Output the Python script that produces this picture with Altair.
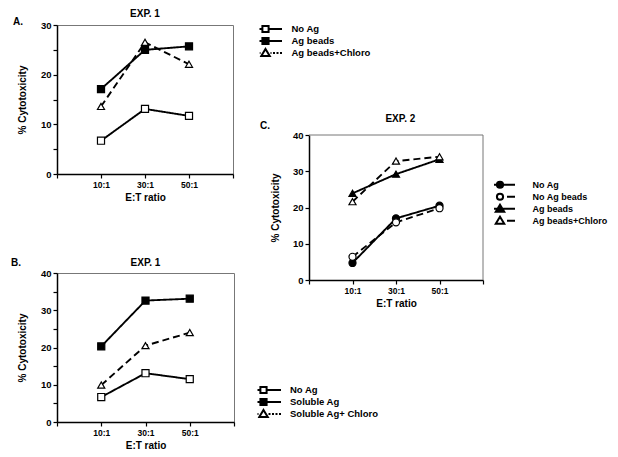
import altair as alt
import pandas as pd

FONT = "Liberation Sans"

# ---------------- data ----------------
ratios = [10, 30, 50]
ratio_labels = ["10:1", "30:1", "50:1"]
x_ticks = [-10, 0, 10, 20, 30, 40, 50, 60, 70]

a_series = ["No Ag", "Ag beads", "Ag beads+Chloro"]
a_no_ag = [6.7, 13.1, 11.7]
a_ag_beads = [17.1, 25.0, 25.7]
a_ag_beads_chloro = [13.6, 26.5, 22.1]

b_series = ["No Ag", "Soluble Ag", "Soluble Ag+ Chloro"]
b_no_ag = [6.7, 13.1, 11.5]
b_soluble_ag = [20.3, 32.6, 33.1]
b_soluble_ag_chloro = [9.9, 20.5, 24.0]

c_series = ["No Ag", "No Ag beads", "Ag beads", "Ag beads+Chloro"]
c_no_ag = [4.7, 17.0, 20.5]
c_no_ag_beads = [6.4, 15.9, 19.8]
c_ag_beads = [23.9, 29.2, 33.3]
c_ag_beads_chloro = [21.6, 32.8, 34.0]


def long_df(series, values):
    rows = []
    for s, vals in zip(series, values):
        for r, v in zip(ratios, vals):
            rows.append({"series": s, "ratio": r, "value": v})
    return pd.DataFrame(rows)


df_a = long_df(a_series, [a_no_ag, a_ag_beads, a_ag_beads_chloro])
df_b = long_df(b_series, [b_no_ag, b_soluble_ag, b_soluble_ag_chloro])
df_c = long_df(c_series, [c_no_ag, c_no_ag_beads, c_ag_beads, c_ag_beads_chloro])

# ---------------- legend symbol paths (line + marker), unit = 5 px ----------------
def segs(x0, x1, dash=None, gap=None):
    if dash is None:
        return [(x0, x1)]
    out = []
    x = x0
    while x < x1 - 1e-6:
        e = min(x + dash, x1)
        out.append((x, e))
        x = e + gap
    return out


def line_path(half, inner, style):
    if style == "solid":
        left = segs(-half, -inner)
    elif style == "dotted":
        left = segs(-half, -inner, 0.4, 0.3)
    else:  # dashed
        left = segs(-half, -inner, 1.6, 0.5)
    p = ""
    for a, b in left:
        p += f"M{a:.3f},0H{b:.3f}"
        p += f"M{-b:.3f},0H{-a:.3f}"
    return p


def marker_path(kind, m=0.62):
    if kind == "square":
        return f"M{-m},{-m}H{m}V{m}H{-m}Z"
    if kind == "circle":
        return f"M{m},0A{m},{m},0,1,1,{-m},0A{m},{m},0,1,1,{m},0Z"
    return "M0,-0.8L0.85,0.62L-0.85,0.62Z"


def sym(kind, style, half, inner):
    return line_path(half, inner, style) + marker_path(kind)


SOLID = [1, 0]
DASH = [7, 4]

x_label_expr = " : ".join(
    f"datum.value == {r} ? '{l}'" for r, l in zip(ratios, ratio_labels)
) + " : ''"


def encodings(df, ymax, title_pad, y_range=None):
    x_axis = alt.Axis(values=x_ticks, labelExpr=x_label_expr, title="E:T ratio",
                      labelFontSize=8.5, labelPadding=2, titlePadding=4)
    y_axis = alt.Axis(values=list(range(0, ymax + 1, 5)),
                      labelExpr="datum.value % 10 == 0 ? datum.value : ''",
                      title="% Cytotoxicity", labelFontSize=9.5, labelPadding=2,
                      titlePadding=title_pad)
    if y_range is None:
        y_scale = alt.Scale(domain=[0, ymax], nice=False)
    else:
        y_scale = alt.Scale(domain=[0, ymax], nice=False, range=y_range)
    return alt.Chart(df).encode(
        x=alt.X("ratio:Q", scale=alt.Scale(domain=[-10, 70], nice=False, zero=False), axis=x_axis),
        y=alt.Y("value:Q", scale=y_scale, axis=y_axis),
    )


def data_layers(base, series, shapes, fills, dashes):
    lines = base.mark_line(color="black", strokeWidth=1.9).encode(
        strokeDash=alt.StrokeDash("series:N", scale=alt.Scale(domain=series, range=dashes), legend=None)
    )
    pts = base.mark_point(stroke="black", strokeWidth=1.2, size=50, opacity=1).encode(
        shape=alt.Shape("series:N", scale=alt.Scale(domain=series, range=shapes), legend=None),
        fill=alt.Fill("series:N", scale=alt.Scale(domain=series, range=fills), legend=None),
    )
    return [lines, pts]


def legend_layer(base, series, fills, syms, lx, ly, label_offset, font_size, clip_h):
    leg = alt.Legend(title=None, orient="none", legendX=lx, legendY=ly,
                     direction="vertical", symbolSize=100, symbolStrokeColor="black",
                     symbolStrokeWidth=2, symbolOpacity=1, labelFont=FONT,
                     labelFontSize=font_size, labelFontWeight="bold", labelColor="black",
                     labelOffset=label_offset, rowPadding=0, clipHeight=clip_h, padding=0)
    return base.transform_filter("false").mark_point(stroke="black", opacity=1).encode(
        shape=alt.Shape("series:N", scale=alt.Scale(domain=series, range=syms), legend=leg),
        fill=alt.Fill("series:N", scale=alt.Scale(domain=series, range=fills), legend=leg),
        stroke=alt.Stroke("series:N", scale=alt.Scale(domain=series, range=["black"] * len(series)), legend=leg),
    )


def text_layer(text, x, y, align):
    return alt.Chart(pd.DataFrame({"t": [text]})).mark_text(
        align=align, baseline="middle", font=FONT, fontSize=10, fontWeight="bold", color="black"
    ).encode(text="t:N", x=x, y=y)


PANEL_RES = dict(shape="independent", fill="independent", stroke="independent")

# ---- panel A ----
a_shapes = ["square", "square", "triangle-up"]
a_fills = ["white", "black", "white"]
a_dashes = [SOLID, SOLID, DASH]
base_a = encodings(df_a, 30, 13)
chart_a = alt.layer(
    *data_layers(base_a, a_series, a_shapes, a_fills, a_dashes),
    text_layer("EXP. 1", alt.datum(30), alt.value(-11.5), "center"),
    text_layer("A.", alt.value(-44), alt.value(-3), "left"),
).properties(width=176, height=149)

# ---- panel B ----
b_shapes = ["square", "square", "triangle-up"]
b_fills = ["white", "black", "white"]
b_dashes = [SOLID, SOLID, DASH]
base_b = encodings(df_b, 40, 13)
chart_b = alt.layer(
    *data_layers(base_b, b_series, b_shapes, b_fills, b_dashes),
    text_layer("EXP. 1", alt.datum(30), alt.value(-10.5), "center"),
    text_layer("B.", alt.value(-46), alt.value(-10), "left"),
).properties(width=177, height=149)

# ---- panel C: its plot sits lower in a taller cell; it also hosts the legends of A and B ----
C_H = 255
C_TOP = 110
c_range = [C_H, C_TOP]
c_shapes = ["circle", "circle", "triangle-up", "triangle-up"]
c_fills = ["black", "white", "black", "white"]
c_dashes = [SOLID, DASH, SOLID, DASH]
base_c = encodings(df_c, 40, 12, c_range)

a_syms = [sym("square", "solid", 3.3, 0.62), sym("square", "solid", 3.3, 0.62), sym("tri", "dotted", 3.3, 1.0)]
b_syms = [sym("square", "solid", 3.5, 0.62), sym("square", "solid", 3.5, 0.62), sym("tri", "dotted", 3.5, 1.0)]
c_syms = [sym("circle", "solid", 3.0, 0.62), sym("circle", "dashed", 3.0, 1.1),
          sym("tri", "solid", 3.0, 0.62), sym("tri", "dashed", 3.0, 1.1)]

leg_a = legend_layer(encodings(df_a, 40, 12, c_range), a_series, a_fills, a_syms, -49.5, -2, 20, 9.5, 12)
leg_b = legend_layer(encodings(df_b, 40, 12, c_range), b_series, b_fills, b_syms, -51.5, 359, 20.5, 9.5, 12)
leg_c = legend_layer(base_c, c_series, c_fills, c_syms, 185, 154, 26.5, 9, 11.5)

frame_df = pd.DataFrame({"k": [0]})
frame_top = alt.Chart(frame_df).mark_rule(color="#777", strokeWidth=1).encode(
    x=alt.datum(-10), x2=alt.datum(70), y=alt.datum(40))
frame_right = alt.Chart(frame_df).mark_rule(color="#777", strokeWidth=1).encode(
    x=alt.datum(70), y=alt.datum(0), y2=alt.datum(40))

chart_c = alt.layer(
    frame_top, frame_right,
    *data_layers(base_c, c_series, c_shapes, c_fills, c_dashes),
    leg_c, leg_a, leg_b,
    text_layer("EXP. 2", alt.datum(32), alt.value(94), "center"),
    text_layer("C.", alt.value(-49), alt.value(101), "left"),
).resolve_scale(**PANEL_RES).properties(
    width=174, height=C_H, view=alt.ViewBackground(strokeOpacity=0)
)

RES = dict(shape="independent", fill="independent", stroke="independent", strokeDash="independent")

left = alt.vconcat(chart_a, chart_b, spacing=54).resolve_scale(**RES)

chart = alt.hconcat(left, chart_c, spacing=21).resolve_scale(**RES).properties(
    padding={"left": 2, "top": 0, "right": 0, "bottom": 0}
).configure_view(stroke="#777", strokeWidth=1).configure_axis(
    domainColor="black", domainWidth=1.5, tickColor="black", tickWidth=1.2, tickSize=4,
    labelFont=FONT, labelFontWeight="bold", labelColor="black",
    titleFont=FONT, titleFontWeight="bold", titleFontSize=10, titleColor="black", grid=False,
)

chart.save("out.html", embed_options={"renderer": "svg", "actions": False})
